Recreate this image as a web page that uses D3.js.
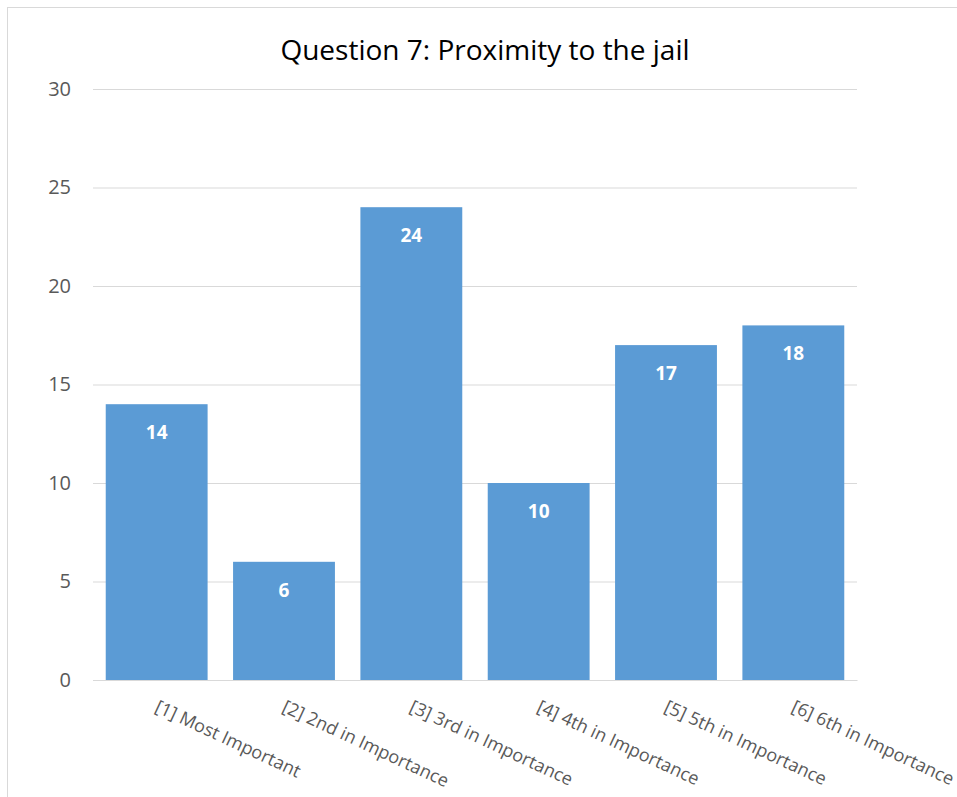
<!DOCTYPE html>
<html>
<head>
<meta charset="utf-8">
<script src="https://cdn.jsdelivr.net/npm/d3@7"></script>
<style>
  body { margin: 0; background: #fff; }
  svg { display: block; }
  svg text { font-family: "Open Sans", "Noto Sans", sans-serif; }
</style>
</head>
<body>
<svg id="chart" width="957" height="797"></svg>
<script>
// chart data
const categories = [
  "[1] Most Important",
  "[2] 2nd in Importance",
  "[3] 3rd in Importance",
  "[4] 4th in Importance",
  "[5] 5th in Importance",
  "[6] 6th in Importance"
];
const counts = [14, 6, 24, 10, 17, 18];
const yTicks = [0, 5, 10, 15, 20, 25, 30];
const chartTitle = "Question 7: Proximity to the jail";

const svg = d3.select("#chart");
const margin = { left: 93, right: 100, top: 89, bottom: 117 };
const width = +svg.attr("width");
const height = +svg.attr("height");

// outer chart border
svg.append("rect")
  .attr("x", 7.5).attr("y", 7.5)
  .attr("width", 970).attr("height", 810)
  .attr("fill", "none")
  .attr("stroke", "#d9d9d9");

const x = d3.scaleBand()
  .domain(categories)
  .range([margin.left, width - margin.right])
  .paddingInner(0.2)
  .paddingOuter(0.1);

const y = d3.scaleLinear()
  .domain([0, 30])
  .range([height - margin.bottom, margin.top]);

// gridlines + y labels
const yAxis = svg.append("g")
  .attr("transform", `translate(${margin.left},0)`)
  .call(d3.axisLeft(y).tickValues(yTicks).tickSize(-(width - margin.left - margin.right)).tickPadding(22));
yAxis.select(".domain").remove();
yAxis.selectAll(".tick line").attr("stroke", "#d9d9d9");
yAxis.selectAll(".tick text")
  .attr("fill", "#595959")
  .style("font-size", "20px");

// bars
svg.append("g")
  .selectAll("rect")
  .data(counts)
  .join("rect")
  .attr("x", (d, i) => x(categories[i]))
  .attr("y", d => y(d))
  .attr("width", x.bandwidth())
  .attr("height", d => y(0) - y(d))
  .attr("fill", "#5b9bd5");

// value labels
svg.append("g")
  .selectAll("text")
  .data(counts)
  .join("text")
  .attr("x", (d, i) => x(categories[i]) + x.bandwidth() / 2)
  .attr("y", d => y(d) + 35)
  .attr("text-anchor", "middle")
  .attr("fill", "#fff")
  .style("font-size", "19px")
  .style("font-weight", "bold")
  .text(d => d);

// x axis labels, rotated
const xAxis = svg.append("g")
  .attr("transform", `translate(0,${y(0)})`)
  .call(d3.axisBottom(x).tickSize(0).tickPadding(0));
xAxis.select(".domain").attr("stroke", "#d9d9d9");
xAxis.selectAll(".tick text")
  .attr("fill", "#595959")
  .style("font-size", "18px")
  .attr("text-anchor", "start")
  .attr("dy", null)
  .attr("transform", "translate(-3,31) rotate(25)");

// title
svg.append("text")
  .attr("x", 485)
  .attr("y", 60)
  .attr("text-anchor", "middle")
  .attr("fill", "#000")
  .style("font-size", "28px")
  .text(chartTitle);
</script>
</body>
</html>
